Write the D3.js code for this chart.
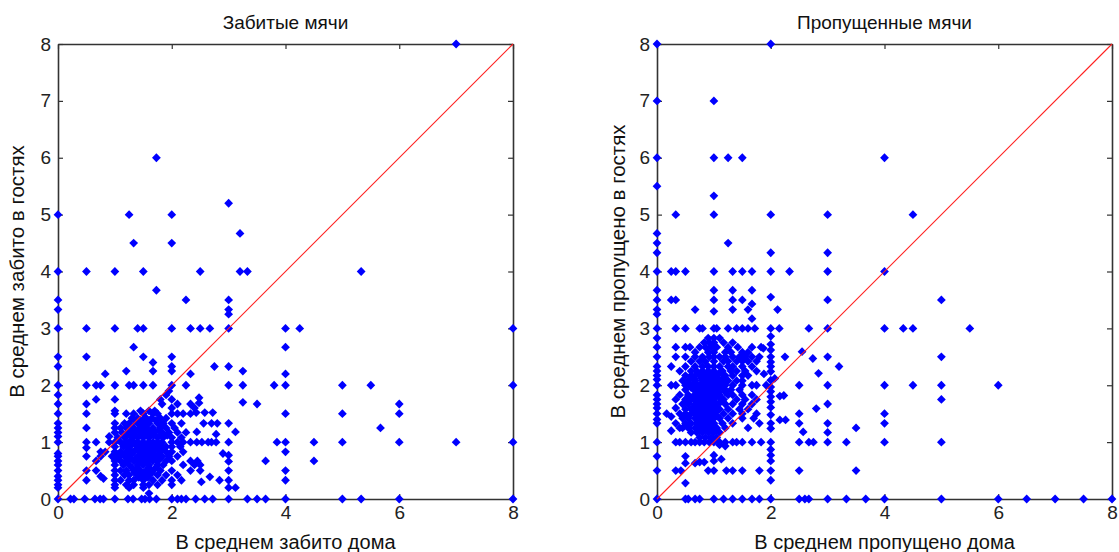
<!DOCTYPE html>
<html>
<head>
<meta charset="utf-8">
<script src="https://cdn.jsdelivr.net/npm/d3@7"></script>
<style>
  body { margin: 0; background: #fff; }
  svg { display: block; font-family: "Liberation Sans", Arial, sans-serif; }
</style>
</head>
<body>
<svg id="chart" width="1119" height="552"></svg>
<script>
// [home average, away average] per team
const scoredPoints = [
  [7,8],[1.73,6],[3,5.2],[0,5],[1.25,5],[2,5],[3.2,4.67],[1.33,4.5],[2,4.5],
  [0,4],[0.5,4],[1,4],[1.5,4],[2.5,4],[3.2,4],[3.33,4],[5.33,4],
  [1.73,3.67],[0,3.5],[2.25,3.5],[3,3.5],[0,3.33],[3,3.33],[3,3.25],
  [0,3],[0.5,3],[1,3],[1.4,3],[1.5,3],[2,3],[2.33,3],[2.5,3],[2.67,3],[3,3],[4,3],[4.25,3],[8,3],
  [1.33,2.67],[4,2.67],[0,2.5],[0.5,2.5],[1.5,2.5],[2,2.5],
  [0,2.33],[1.67,2.4],[1.67,2.25],[2,2.33],[2,2.25],[3,2.33],[2.75,2.33],[3.25,2.25],[1.2,2.25],[0.83,2.2],[2.33,2.2],[4,2.2],
  [0,2],[0.5,2],[0.67,2],[0.75,2],[1,2],[1.25,2],[1.33,2],[1.5,2],[1.67,2],[2,2],[2.25,2],[3,2],[3.25,2],[3.8,2],[4,2],[5,2],[5.5,2],[8,2],
  [0,1.83],[0.5,1.67],[0.67,1.75],[1,1.75],[3.25,1.7],[3.5,1.67],[6,1.67],
  [0,1.67],[0,1.5],[0.5,1.5],[1,1.5],[4,1.5],[5,1.5],[6,1.5],
  [5.67,1.25],[0.5,1.25],[0,1.33],[0,1.25],[0,1.17],[3,1.33],[3.12,1.18],
  [0,1],[0.5,1],[0.67,1],[3.85,1],[4,1],[4.5,1],[5,1],[6,1],[7,1],[8,1],
  [4,0.83],[3.65,0.67],[4.5,0.67],[4,0.5],[4,0.33],
  [0,0.8],[0,0.75],[0,0.67],[0,0.6],[0,0.5],[0,0.4],[0,0.33],[0,0.25],[0,0.2],[0,1.1],
  [0.5,0.9],[0.5,0.75],[0.5,0.5],[0.5,0.33],
  [0,0],[0.22,0],[0.28,0],[0.47,0],[0.65,0],[0.74,0],[0.8,0],[1,0],[1.23,0],[1.32,0],[1.47,0],[1.53,0],[1.61,0],[1.73,0],
  [2,0],[2.1,0],[2.17,0],[2.25,0],[2.42,0],[2.58,0],[2.72,0],[3,0],[3.33,0],[3.5,0],[3.65,0],[4,0],[5,0],[5.33,0],[6,0],[8,0],
  [2.48,1.78],[2.48,1.69],[2.43,1.52],[2.58,1.52],[2.72,1.52],[2.33,1.5],[2.56,1.33],[2.7,1.33],[2.8,1.33],
  [2.44,1.18],[2.78,1.14],[2.33,1],[2.44,1],[2.53,1],[2.64,1],[2.7,1],[2.78,1],[3,1],
  [2.9,0.8],[3,0.77],[3,0.66],[3,0.5],[2.67,0.39],[2.84,0.33],[3,0.33],[2.52,0.3],[3,0.2],[3.12,0.2],
  [1.9,1.83],[1.95,1.9],[2,1.75],[1.8,1.75],[2.1,1.67],[2.33,1.67],[2.4,1.6],[2.2,1.5],[2.1,1.5],[2,1.6],[1.83,1.67],
  [0.67,0.67],[0.75,0.75],[0.75,0.83],[0.67,0.5],[0.75,0.4],[0.8,0.36],[0.9,1.1],[0.83,0.83],[1,1.33],[1,1.55],
  // dense block
  [1.45,1.55],[1.6,1.55],[1.7,1.55],
  [1.2,1.5],[1.33,1.5],[1.5,1.5],[1.67,1.5],[1.75,1.5],[2,1.5],
  [1.3,1.42],[1.4,1.42],[1.55,1.42],[1.65,1.42],[1.8,1.42],[1.9,1.42],
  [1.17,1.33],[1.25,1.33],[1.4,1.33],[1.5,1.33],[1.6,1.33],[1.75,1.33],[1.85,1.33],[2,1.33],[2.17,1.33],
  [1,1.25],[1.1,1.25],[1.2,1.25],[1.33,1.25],[1.45,1.25],[1.55,1.25],[1.67,1.25],[1.8,1.25],[1.9,1.25],[2.05,1.25],
  [1,1.17],[1.12,1.17],[1.25,1.17],[1.35,1.17],[1.5,1.17],[1.6,1.17],[1.7,1.17],[1.83,1.17],[1.95,1.17],[2.1,1.17],[2.25,1.17],
  [1.05,1.08],[1.17,1.08],[1.3,1.08],[1.4,1.08],[1.5,1.08],[1.6,1.08],[1.75,1.08],[1.85,1.08],[2,1.08],[2.17,1.08],
  [0.9,1],[1,1],[1.1,1],[1.2,1],[1.25,1],[1.33,1],[1.4,1],[1.5,1],[1.6,1],[1.67,1],[1.75,1],[1.83,1],[2,1],[2.1,1],[2.2,1],
  [1,0.92],[1.15,0.92],[1.25,0.92],[1.4,0.92],[1.5,0.92],[1.65,0.92],[1.75,0.92],[1.9,0.92],[2,0.92],[2.15,0.92],
  [1,0.83],[1.1,0.83],[1.2,0.83],[1.33,0.83],[1.45,0.83],[1.55,0.83],[1.67,0.83],[1.8,0.83],[1.9,0.83],[2,0.83],[2.2,0.83],
  [0.95,0.75],[1.05,0.75],[1.17,0.75],[1.25,0.75],[1.4,0.75],[1.5,0.75],[1.6,0.75],[1.7,0.75],[1.83,0.75],[1.95,0.75],[2.1,0.75],
  [1,0.67],[1.1,0.67],[1.2,0.67],[1.33,0.67],[1.45,0.67],[1.55,0.67],[1.67,0.67],[1.75,0.67],[1.9,0.67],[2,0.67],[2.33,0.67],[2.45,0.67],
  [1,0.6],[1.15,0.6],[1.25,0.6],[1.4,0.6],[1.5,0.6],[1.6,0.6],[1.75,0.6],[1.85,0.6],[2.2,0.6],[2.4,0.6],[2.5,0.6],
  [1,0.5],[1.1,0.5],[1.2,0.5],[1.33,0.5],[1.45,0.5],[1.55,0.5],[1.67,0.5],[1.8,0.5],[2,0.5],[2.33,0.5],[2.5,0.5],
  [1,0.42],[1.17,0.42],[1.25,0.42],[1.4,0.42],[1.5,0.42],[1.6,0.42],[1.75,0.42],[1.9,0.42],[2.1,0.42],
  [1,0.33],[1.1,0.33],[1.25,0.33],[1.33,0.33],[1.5,0.33],[1.67,0.33],[1.83,0.33],[2,0.33],[2.17,0.33],
  [1,0.25],[1.2,0.25],[1.33,0.25],[1.5,0.25],[1.6,0.25],[1.75,0.25],[2,0.25],
  [1,0.2],[1.25,0.2],[1.5,0.2],[1.6,0.1],
  // core of the block
  [1.35,1.38],[1.48,1.38],[1.6,1.38],[1.72,1.38],
  [1.28,1.21],[1.42,1.21],[1.55,1.21],[1.65,1.21],[1.78,1.21],
  [1.22,1.12],[1.35,1.12],[1.45,1.12],[1.55,1.12],[1.68,1.12],[1.8,1.12],[1.92,1.12],
  [1.15,0.96],[1.3,0.96],[1.45,0.96],[1.55,0.96],[1.7,0.96],[1.8,0.96],
  [1.25,0.88],[1.38,0.88],[1.5,0.88],[1.6,0.88],[1.72,0.88],[1.85,0.88],
  [1.12,0.79],[1.3,0.79],[1.45,0.79],[1.55,0.79],[1.65,0.79],[1.77,0.79],
  [1.27,0.71],[1.38,0.71],[1.5,0.71],[1.62,0.71],[1.8,0.71],
  [1.3,0.55],[1.4,0.55],[1.6,0.55],[1.72,0.55],[1.35,0.46],[1.65,0.46],[1.42,0.38],[1.58,0.38]
];

const concededPoints = [
  [0,8],[0,7],[0,6],[0,5.5],[0,4.67],[0,4.5],[0,4.33],[0,4],[0,3.67],[0,3.5],[0,3.33],[0,3.25],[0,3],[0,2.83],[0,2.67],
  [0,2.5],[0,2.33],[0,2.25],[0,2.17],[0,2.1],[0,2],[0,1.83],[0,1.75],[0,1.67],[0,1.6],[0,1.5],[0,1.4],[0,1.33],[0,1],[0,0.75],[0,0.5],
  [2,8],[1,7],[1,6],[1.25,6],[1.5,6],[4,6],[1,5.33],[0.33,5],[1,5],[2,5],[3,5],[4.5,5],[1.25,4.5],[2,4.33],[3,4.33],
  [0.25,4],[0.33,4],[0.5,4],[1,4],[1.33,4],[1.5,4],[1.67,4],[2,4],[2.33,4],[3,4],[4,4],
  [1,3.67],[1.33,3.67],[1.67,3.67],
  [0.25,3.5],[0.33,3.5],[1,3.5],[1.33,3.5],[1.5,3.5],[2,3.55],[3,3.5],[5,3.5],
  [1.67,3.43],[0.67,3.33],[1,3.3],[1.33,3.33],[1.6,3.33],[2.12,3.33],[1.67,3.17],
  [0.33,3],[0.5,3],[0.75,3],[0.8,3],[1,3],[1.05,3],[1.25,3],[1.4,3],[1.5,3],[1.6,3],[1.72,3],[2,3],[2.15,3],[2.67,3],[3,3],[4,3],[4.33,3],[4.5,3],[5.5,3],
  [2,2.86],[2,2.72],[2,2.62],[2,2.5],[2,2.41],[2,2.33],[2,2.24],[2,2.09],[2,1.97],[2,1.89],[2,1.8],[2,1.71],[2,1.61],[2,1.48],[2,1.33],[2,1.24],
  [2,1],[2,0.87],[2,0.77],[2,0.67],[2,0.5],[2,0.33],
  [1.88,2.2],[1.92,2],[2.07,2.12],[1.87,2.65],[2.16,1.81],[2.23,1.82],[2.25,2.5],[2.16,1.39],[2.26,1.39],
  [2.5,1.5],[2.5,2],[2.5,1.33],[2.57,1.18],[2.55,2.59],[2.74,2.47],[2.84,2.21],[2.8,1.59],
  [3,2.5],[3,2],[3,1.67],[3,1.33],[3,1.17],[3,1],[3.2,2.33],[3.33,1],[3.5,1.25],[3.5,0.5],
  [2.5,1],[2.67,1],[2.75,1],[2.5,0.5],
  [4,2],[4.5,2],[5,2],[6,2],[5,2.5],[5,1.75],[4,1.5],[4,1.33],[4,1],[5,1],
  [0,0],[0.5,0],[0.55,0],[0.67,0],[0.75,0],[1,0],[1.17,0],[1.33,0],[1.5,0],[1.67,0],[1.8,0],[2,0],[2.5,0],[2.6,0],[2.67,0],
  [3,0],[3.33,0],[3.67,0],[4,0],[5,0],[6,0],[6.5,0],[7,0],[7.5,0],[8,0],
  [0.33,0.5],[0.42,0.5],[0.9,0.5],[1,0.5],[1.22,0.5],[1.33,0.5],[1.5,0.5],[1.8,0.5],
  [0.5,0.28],[0.5,0.75],[0.5,0.63],[0.67,0.63],[0.75,0.65],[0.83,0.65],[1,0.77],[1,0.67],[1.13,0.7],
  [0.33,1],[0.4,1],[0.5,1],[0.6,1],[0.67,1],[0.75,1],[0.83,1],[0.92,1],[1,1],[1.1,1],[1.2,1],[1.33,1],[1.4,1],[1.5,1],[1.67,1],[1.83,1],
  [0.25,1.2],[0.17,1.5],[0.25,1.45],[0.33,1.6],[0.33,1.75],[0.33,2],[0.25,2.33],[0.33,2.5],[0.33,2.67],[0.5,2.67],[0.4,1.25],
  // dense block
  [0.9,2.83],[1,2.83],[1.1,2.83],
  [0.83,2.75],[0.92,2.75],[1,2.75],[1.17,2.75],[1.33,2.75],
  [0.58,2.67],[0.75,2.67],[0.85,2.67],[0.95,2.67],[1.05,2.67],[1.25,2.67],[1.42,2.67],[1.67,2.67],[1.83,2.67],
  [0.67,2.58],[0.9,2.58],[1,2.58],[1.2,2.58],[1.3,2.58],[1.5,2.58],[1.6,2.58],
  [0.5,2.5],[0.67,2.5],[0.8,2.5],[0.92,2.5],[1,2.5],[1.1,2.5],[1.2,2.5],[1.33,2.5],[1.45,2.5],[1.55,2.5],[1.67,2.5],[1.8,2.5],
  [0.6,2.42],[0.75,2.42],[0.85,2.42],[1,2.42],[1.17,2.42],[1.25,2.42],[1.4,2.42],[1.5,2.42],[1.6,2.42],[1.75,2.42],
  [0.5,2.33],[0.67,2.33],[0.8,2.33],[0.9,2.33],[1,2.33],[1.1,2.33],[1.25,2.33],[1.33,2.33],[1.5,2.33],[1.67,2.33],
  [0.4,2.25],[0.6,2.25],[0.7,2.25],[0.8,2.25],[0.9,2.25],[1,2.25],[1.15,2.25],[1.3,2.25],[1.4,2.25],[1.55,2.25],[1.75,2.25],
  [0.5,2.17],[0.6,2.17],[0.75,2.17],[0.85,2.17],[0.95,2.17],[1.05,2.17],[1.2,2.17],[1.33,2.17],[1.5,2.17],[1.6,2.17],
  [0.45,2.08],[0.55,2.08],[0.67,2.08],[0.8,2.08],[0.9,2.08],[1,2.08],[1.1,2.08],[1.25,2.08],[1.4,2.08],[1.5,2.08],
  [0.25,2],[0.5,2],[0.6,2],[0.7,2],[0.8,2],[0.9,2],[1,2],[1.1,2],[1.2,2],[1.33,2],[1.5,2],[1.67,2],[1.75,2],
  [0.5,1.92],[0.65,1.92],[0.75,1.92],[0.85,1.92],[0.95,1.92],[1.05,1.92],[1.2,1.92],[1.3,1.92],[1.45,1.92],
  [0.4,1.83],[0.55,1.83],[0.67,1.83],[0.8,1.83],[0.9,1.83],[1,1.83],[1.1,1.83],[1.25,1.83],[1.33,1.83],[1.5,1.83],[1.67,1.83],
  [0.5,1.75],[0.6,1.75],[0.7,1.75],[0.8,1.75],[0.92,1.75],[1,1.75],[1.17,1.75],[1.4,1.75],[1.55,1.75],[1.75,1.75],
  [0.45,1.67],[0.55,1.67],[0.67,1.67],[0.75,1.67],[0.85,1.67],[0.95,1.67],[1.05,1.67],[1.2,1.67],[1.33,1.67],[1.5,1.67],[1.67,1.67],
  [0.5,1.58],[0.6,1.58],[0.7,1.58],[0.8,1.58],[0.9,1.58],[1,1.58],[1.1,1.58],[1.25,1.58],[1.45,1.58],[1.6,1.58],
  [0.4,1.5],[0.5,1.5],[0.6,1.5],[0.67,1.5],[0.75,1.5],[0.85,1.5],[0.95,1.5],[1,1.5],[1.17,1.5],[1.33,1.5],[1.5,1.5],[1.75,1.5],
  [0.45,1.42],[0.55,1.42],[0.67,1.42],[0.8,1.42],[0.9,1.42],[1,1.42],[1.1,1.42],[1.25,1.42],[1.5,1.42],[1.7,1.42],
  [0.33,1.33],[0.5,1.33],[0.6,1.33],[0.7,1.33],[0.8,1.33],[0.9,1.33],[1,1.33],[1.15,1.33],[1.33,1.33],[1.8,1.33],
  [0.45,1.25],[0.55,1.25],[0.67,1.25],[0.75,1.25],[0.85,1.25],[0.95,1.25],[1.05,1.25],[1.2,1.25],[1.6,1.25],
  [0.6,1.17],[0.7,1.17],[0.8,1.17],[0.9,1.17],[1,1.17],[1.1,1.17],
  [0.75,1.08],[0.85,1.08],[0.95,1.08],[1.05,1.08],[1.1,0.95],[1.2,0.93],
  // core of the block
  [0.7,2.2],[0.82,2.2],[0.95,2.2],[1.08,2.2],
  [0.65,2.12],[0.78,2.12],[0.88,2.12],[1.0,2.12],[1.15,2.12],
  [0.68,2.04],[0.8,2.04],[0.95,2.04],[1.05,2.04],[1.18,2.04],
  [0.6,1.96],[0.72,1.96],[0.88,1.96],[1.0,1.96],[1.12,1.96],
  [0.7,1.88],[0.82,1.88],[0.95,1.88],[1.08,1.88],[1.2,1.88],
  [0.62,1.79],[0.75,1.79],[0.87,1.79],[1.0,1.79],[1.1,1.79],
  [0.7,1.71],[0.82,1.71],[0.9,1.71],[1.0,1.71],[1.12,1.71],
  [0.65,1.62],[0.75,1.62],[0.85,1.62],[0.95,1.62],[1.05,1.62],
  [0.7,1.54],[0.8,1.54],[0.9,1.54],[1.05,1.54],
  [0.72,1.46],[0.85,1.46],[0.95,1.46],[1.05,1.46],
  [0.75,1.38],[0.85,1.38],[0.95,1.38],[0.8,1.29],[0.9,1.29],[1.0,1.29]
];

const xTicks = [0, 2, 4, 6, 8];
const yTicks = [0, 1, 2, 3, 4, 5, 6, 7, 8];

const panels = [
  { title: "Забитые мячи", xLabel: "В среднем забито дома", yLabel: "В среднем забито в гостях",
    points: scoredPoints, left: 58, right: 513, yLabelX: 17 },
  { title: "Пропущенные мячи", xLabel: "В среднем пропущено дома", yLabel: "В среднем пропущено в гостях",
    points: concededPoints, left: 657, right: 1112, yLabelX: 618 }
];

const plotTop = 44, plotBottom = 499;
const svg = d3.select("#chart");
svg.append("rect").attr("width", 1119).attr("height", 552).attr("fill", "#fff");

// blue diamond marker, a bit rounded like the original raster dots
const diamond = "M0,-4.4L1,-3.4L3.4,-1L4.4,0L3.4,1L1,3.4L0,4.4L-1,3.4L-3.4,1L-4.4,0L-3.4,-1L-1,-3.4Z";
const axisColor = "#333";

panels.forEach(p => {
  const x = d3.scaleLinear().domain([0, 8]).range([p.left, p.right]);
  const y = d3.scaleLinear().domain([0, 8]).range([plotBottom, plotTop]);
  const cx = (p.left + p.right) / 2;

  const g = svg.append("g");

  // axes: ticks inward on all four sides
  const axes = [
    { ax: d3.axisBottom(x).tickValues(xTicks), t: `translate(0,${plotBottom})`, labels: true },
    { ax: d3.axisTop(x).tickValues(xTicks), t: `translate(0,${plotTop})`, labels: false },
    { ax: d3.axisLeft(y).tickValues(yTicks), t: `translate(${p.left},0)`, labels: true },
    { ax: d3.axisRight(y).tickValues(yTicks), t: `translate(${p.right},0)`, labels: false }
  ];
  axes.forEach(a => {
    const ag = g.append("g")
      .attr("transform", a.t)
      .call(a.ax.tickSizeInner(-5).tickSizeOuter(0).tickPadding(7).tickFormat(a.labels ? d3.format("d") : () => ""));
    ag.select(".domain").attr("stroke", axisColor).attr("stroke-width", 1.6);
    ag.selectAll(".tick line").attr("stroke", axisColor).attr("stroke-width", 1.2);
    ag.selectAll(".tick text")
      .attr("fill", "#222")
      .style("font-size", "19px")
      .style("font-family", "'Liberation Sans', Arial, sans-serif");
  });

  // points
  g.append("g").selectAll("path")
    .data(p.points)
    .join("path")
    .attr("d", diamond)
    .attr("transform", d => `translate(${x(d[0])},${y(d[1])})`)
    .attr("fill", "#0000ff");

  // diagonal y = x, drawn over the points
  g.append("path")
    .datum([0, 8])
    .attr("d", d3.line().x(v => x(v)).y(v => y(v)))
    .attr("fill", "none")
    .attr("stroke", "#ff2020")
    .attr("stroke-width", 1.1);

  // texts
  g.append("text")
    .attr("x", cx).attr("y", 29)
    .attr("text-anchor", "middle")
    .style("font-size", "19px")
    .attr("fill", "#111")
    .text(p.title);

  g.append("text")
    .attr("x", cx).attr("y", 549)
    .attr("text-anchor", "middle")
    .style("font-size", "20px")
    .attr("fill", "#111")
    .text(p.xLabel);

  g.append("text")
    .attr("transform", `translate(${p.yLabelX},${(plotTop + plotBottom) / 2}) rotate(-90)`)
    .attr("text-anchor", "middle")
    .attr("dy", "0.35em")
    .style("font-size", "20.5px")
    .attr("fill", "#111")
    .text(p.yLabel);
});
</script>
</body>
</html>
